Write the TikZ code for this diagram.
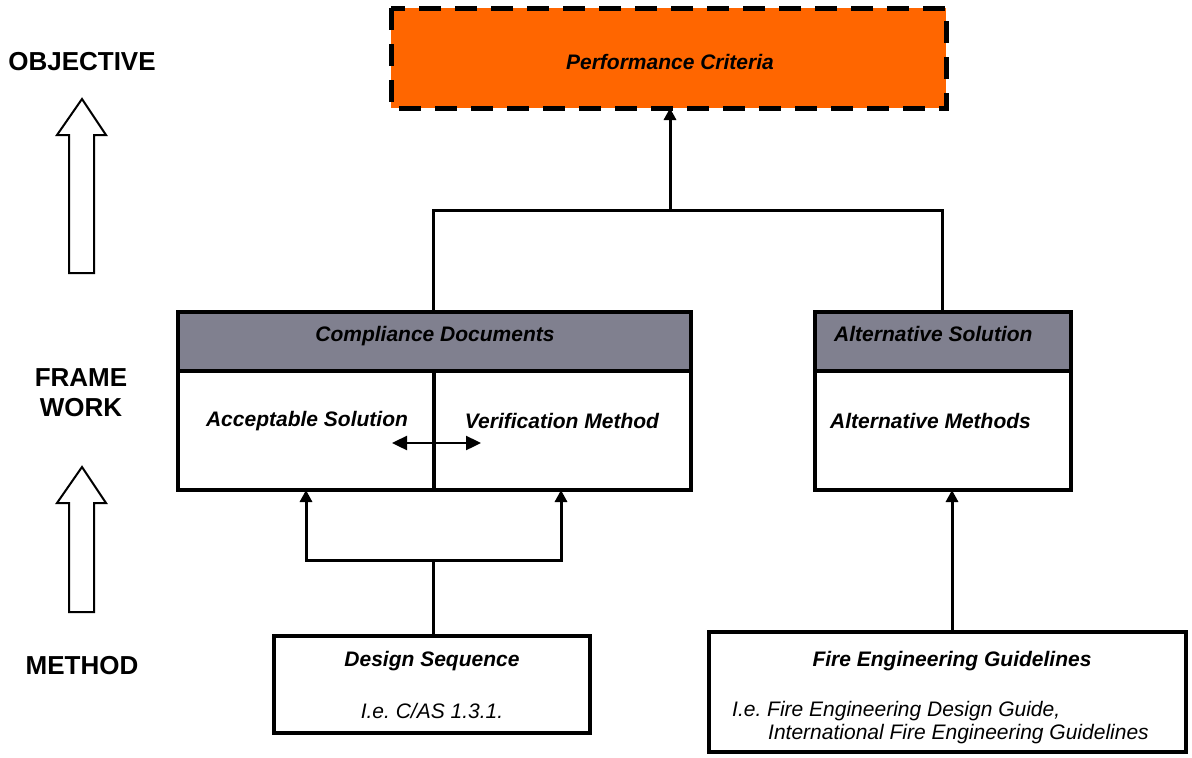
\documentclass[tikz,border=0pt]{standalone}
\usepackage{fontspec}
\setmainfont{Liberation Sans}
\frenchspacing
\usetikzlibrary{arrows.meta}
\definecolor{hdr}{RGB}{128,128,143}
\definecolor{orng}{RGB}{255,102,0}
\tikzset{
  px/.style={x=1pt,y=-1pt},
  boxline/.style={draw=black,line width=3.6pt},
  conn/.style={draw=black,line width=3pt},
  arr/.style={conn,-{Triangle[length=12pt,width=12pt]}},
  lbl/.style={font=\bfseries\itshape\fontsize{21}{24}\selectfont,inner sep=0pt},
  sub/.style={font=\itshape\fontsize{21}{24}\selectfont,inner sep=0pt},
  side/.style={font=\bfseries\fontsize{26}{30}\selectfont,inner sep=0pt,align=center},
  hollow/.style={draw=black,line width=2pt,fill=white}
}
\begin{document}
\begin{tikzpicture}[px]
\useasboundingbox (0,0) rectangle (1192,758);
% top box
\path[fill=orng] (391,8) rectangle (946,108);
\draw[line width=5pt,dash pattern=on 22pt off 14pt] (391,8) rectangle (946,108);
\node[lbl] (perf) at (670,62) {Performance Criteria};
\coordinate (perfb) at (670,108);
% compliance box
\path[fill=hdr] (178,312) rectangle (691,371);
\draw[boxline] (178,312) rectangle (691,490);
\draw[boxline] (178,371) -- (691,371);
\draw[boxline] (434,371) -- (434,490);
\node[lbl] (comp) at (435,336) {Compliance Documents};
\node[lbl] (acc) at (307,421) {Acceptable Solution};
\node[lbl] (ver) at (562,421) {Verification Method};
\coordinate (compt) at (433,312);
\coordinate (accb) at (306,490);
\coordinate (verb) at (561,490);
% alternative box
\path[fill=hdr] (815,312) rectangle (1071,371);
\draw[boxline] (815,312) rectangle (1071,490);
\draw[boxline] (815,371) -- (1071,371);
\node[lbl,anchor=west] (alt) at (834,334) {Alternative Solution};
\node[lbl,anchor=west] (altm) at (830,421) {Alternative Methods};
\coordinate (altt) at (942,312);
\coordinate (altb) at (952,490);
% double arrow
\coordinate (da1) at (392,443);
\coordinate (da2) at (481,443);
\draw[line width=2.4pt,{Triangle[length=15pt,width=14pt]}-{Triangle[length=15pt,width=14pt]}] (da1) -- (da2);
% design box
\draw[boxline] (274,636) rectangle (590,733);
\node[lbl] (des) at (432,661) {Design Sequence};
\node[sub] (desi) at (432,711) {I.e. C/AS 1.3.1.};
\coordinate (dest) at (433,636);
% fire box
\draw[boxline] (709,632) rectangle (1186,752);
\node[lbl] (fire) at (952,661) {Fire Engineering Guidelines};
\node[sub,anchor=west] (fire1) at (732,711) {I.e. Fire Engineering Design Guide,};
\node[sub,anchor=west] (fire2) at (768,734) {International Fire Engineering Guidelines};
\coordinate (firet) at (952,632);
% connectors
\coordinate (j1) at (433,210);
\coordinate (j2) at (942,210);
\coordinate (jm) at (670,210);
\draw[conn] (compt) -- (j1) -- (j2) -- (altt);
\draw[arr] (jm) -- (perfb);
\coordinate (d1) at (306,560);
\coordinate (d2) at (561,560);
\coordinate (dm) at (433,560);
\draw[conn] (dest) -- (dm);
\draw[arr] (dm) -- (d1) -- (accb);
\draw[arr] (dm) -- (d2) -- (verb);
\draw[arr] (firet) -- (altb);
% side labels
\node[side] (obj) at (82,62) {OBJECTIVE};
\node[side] (fw) at (81,393) {FRAME\\WORK};
\node[side] (meth) at (82,666) {METHOD};
\draw[hollow] (82,99) -- (106,135) -- (94,135) -- (94,273) -- (69,273) -- (69,135) -- (57,135) -- cycle;
\draw[hollow] (82,467) -- (106,503) -- (94,503) -- (94,612) -- (69,612) -- (69,503) -- (57,503) -- cycle;
\end{tikzpicture}
\end{document}
